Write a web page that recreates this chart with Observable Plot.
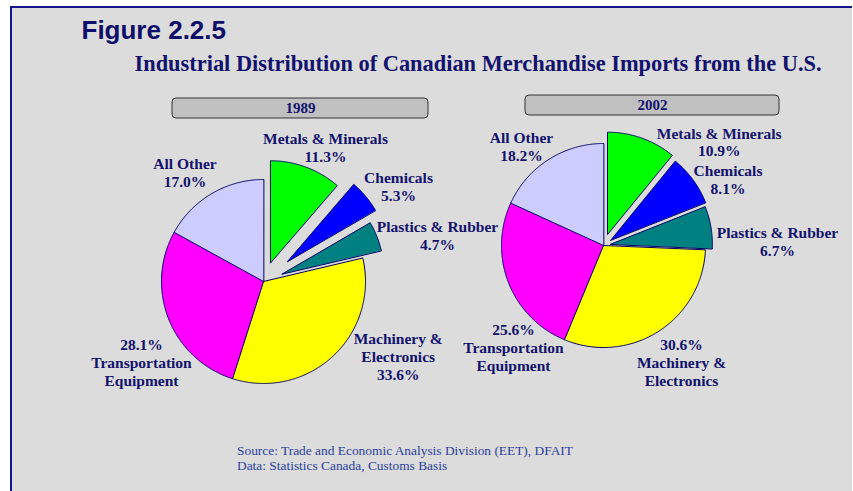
<!DOCTYPE html>
<html>
<head>
<meta charset="utf-8">
<script src="https://cdn.jsdelivr.net/npm/d3@7"></script>
<script src="https://cdn.jsdelivr.net/npm/@observablehq/plot@0.6"></script>
<style>
  html, body { margin: 0; padding: 0; background: #ffffff; }
  #wrap { position: relative; width: 853px; height: 491px; overflow: hidden; }
  #panel { position: absolute; left: 10px; top: 6px; right: 1px; bottom: 0;
           background: #dcdcdc; border-left: 2px solid #14148c; border-top: 2px solid #14148c; }
  #chart { position: absolute; left: 0; top: 0; }
</style>
</head>
<body>
<div id="wrap"><div id="panel"></div><div id="chart"></div></div>
<script>
// ---- data ----
const categories = ["Metals & Minerals", "Chemicals", "Plastics & Rubber",
  "Machinery & Electronics", "Transportation Equipment", "All Other"];
const labelNames = ["Metals & Minerals", "Chemicals", "Plastics & Rubber",
  "Machinery &\nElectronics", "Transportation\nEquipment", "All Other"];
const years = ["1989", "2002"];
const values1989 = [11.3, 5.3, 4.7, 33.6, 28.1, 17.0];
const values2002 = [10.9, 8.1, 6.7, 30.6, 25.6, 18.2];
const titleText = "Figure 2.2.5";
const subtitleText = "Industrial Distribution of Canadian Merchandise Imports from the U.S.";
const sourceLines = ["Source: Trade and Economic Analysis Division (EET), DFAIT",
  "Data: Statistics Canada, Customs Basis"];

// ---- styles / layout ----
const sliceColors = ["#00ff00", "#0000ff", "#008080", "#ffff00", "#ff00ff", "#ccccff"];
const navy = "#12126e";
const W = 853, H = 491;
const layout = [
  { cx: 263, cy: 281, r: 102, explode: [20, 31, 20, 0, 0, 0],
    box: [172, 428, 98, 118],
    lab: [[62, -134], [135, -95.5], [174, -46], [134.7, 74.7], [-122, 80.7], [-78.5, -109]],
    pctFirst: [false, false, false, false, true, false] },
  { cx: 603, cy: 245, r: 102, explode: [12, 9, 7, 0, 0, 0],
    box: [525, 779, 95, 115],
    lab: [[115.7, -103.7], [124.5, -66], [174, -4], [78, 116.7], [-90, 102], [-82, -99]],
    pctFirst: [false, false, false, true, true, false] }
];
const series = [values1989, values2002];

const polys = [];
const labels = [];
const boxes = [];
series.forEach((vals, p) => {
  const L = layout[p];
  const arcs = d3.pie().sort(null).value(d => d)(vals);
  arcs.forEach((a, i) => {
    const mid = (a.startAngle + a.endAngle) / 2;
    const ox = L.cx + L.explode[i] * Math.sin(mid);
    const oy = L.cy - L.explode[i] * Math.cos(mid);
    const id = years[p] + "-" + i;
    polys.push({ id, x: ox, y: oy, color: sliceColors[i] });
    const n = Math.max(2, Math.ceil((a.endAngle - a.startAngle) / 0.01));
    for (let k = 0; k <= n; k++) {
      const t = a.startAngle + (a.endAngle - a.startAngle) * k / n;
      polys.push({ id, x: ox + L.r * Math.sin(t), y: oy - L.r * Math.cos(t), color: sliceColors[i] });
    }
    const pct = vals[i].toFixed(1) + "%";
    const text = L.pctFirst[i] ? pct + "\n" + labelNames[i] : labelNames[i] + "\n" + pct;
    labels.push({ x: L.cx + L.lab[i][0], y: L.cy + L.lab[i][1], text });
  });
  boxes.push({ x1: L.box[0], x2: L.box[1], y1: L.box[2], y2: L.box[3], year: years[p] });
});

const serif = "'Liberation Serif', 'Times New Roman', serif";
const chart = Plot.plot({
  width: W, height: H, margin: 0,
  x: { domain: [0, W], range: [0, W], axis: null },
  y: { domain: [0, H], range: [0, H], axis: null },
  color: { type: "identity" },
  style: { background: "transparent", overflow: "visible" },
  marks: [
    Plot.rect(boxes, { x1: "x1", x2: "x2", y1: "y1", y2: "y2", rx: 4, ry: 4,
      fill: "#c0c0c0", stroke: "#333333", strokeWidth: 1 }),
    Plot.text(boxes, { x: d => (d.x1 + d.x2) / 2, y: d => (d.y1 + d.y2) / 2, text: "year",
      fontFamily: serif, fontWeight: "bold", fontSize: 15, fill: navy }),
    Plot.line(polys, { x: "x", y: "y", z: "id", fill: "color", stroke: "#000066",
      strokeWidth: 1, curve: "linear-closed" }),
    Plot.text(labels, { x: "x", y: "y", text: "text", lineHeight: 1.15,
      fontFamily: serif, fontWeight: "bold", fontSize: 15.5, fill: navy }),
    Plot.text([titleText], { x: 81, y: 38.5, text: d => d, textAnchor: "start", lineAnchor: "bottom",
      fontFamily: "'Liberation Sans', Arial, sans-serif", fontWeight: "bold", fontSize: 26, fill: "#0e0e6a" }),
    Plot.text([subtitleText], { x: 134, y: 70, text: d => d, textAnchor: "start", lineAnchor: "bottom",
      fontFamily: serif, fontWeight: "bold", fontSize: 22.4, fill: navy }),
    Plot.text(sourceLines, { x: 236.5, y: (d, i) => 454 + i * 15.3, text: d => d, textAnchor: "start",
      lineAnchor: "bottom", fontFamily: serif, fontSize: 13.4, fill: "#2a3e9e" })
  ]
});
document.getElementById("chart").appendChild(chart);
</script>
</body>
</html>
